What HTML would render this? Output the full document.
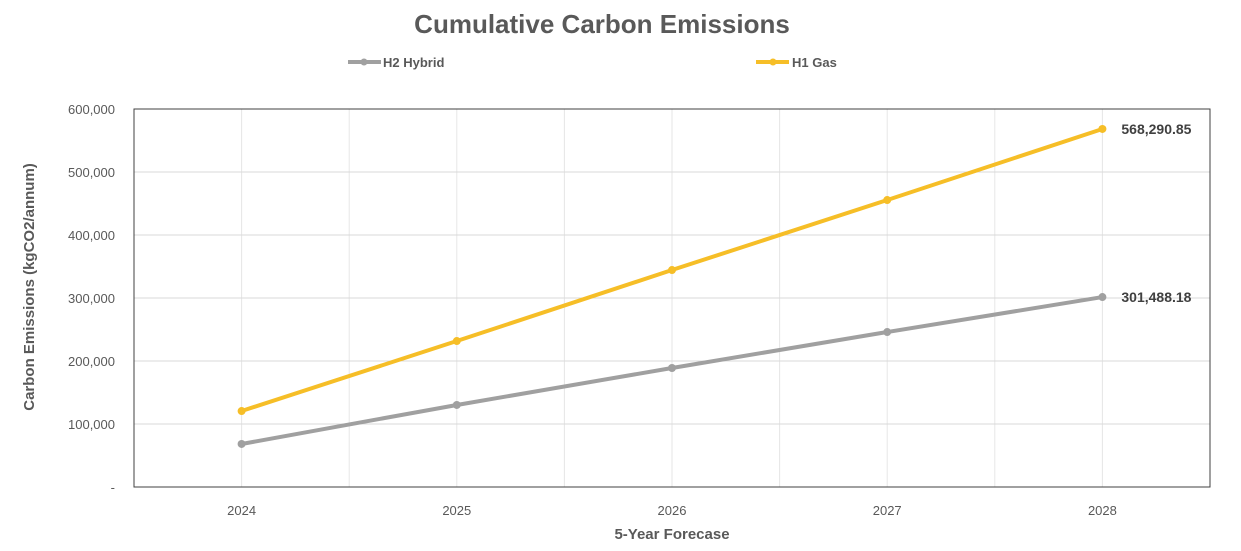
<!DOCTYPE html>
<html><head><meta charset="utf-8"><style>
body{margin:0;background:#fff;font-family:"Liberation Sans",sans-serif;}
svg text{font-family:"Liberation Sans",sans-serif;}
</style></head><body>
<svg id="c" width="1241" height="546" xmlns="http://www.w3.org/2000/svg">
<text x="602" y="33" text-anchor="middle" font-size="26" font-weight="bold" fill="#595959">Cumulative Carbon Emissions</text>
<g><line x1="348" y1="62" x2="381" y2="62" stroke="#a0a0a0" stroke-width="4"/><circle cx="364" cy="62" r="3.5" fill="#a0a0a0"/><text x="383" y="67" font-size="13" font-weight="bold" fill="#595959">H2 Hybrid</text></g>
<g><line x1="756" y1="62" x2="789" y2="62" stroke="#f6be27" stroke-width="4"/><circle cx="773" cy="62" r="3.5" fill="#f6be27"/><text x="792" y="67" font-size="13" font-weight="bold" fill="#595959">H1 Gas</text></g>
<g id="grid"></g><g id="axes"></g><g id="series"></g>
<text transform="translate(34,287) rotate(-90)" text-anchor="middle" font-size="15" font-weight="bold" fill="#595959">Carbon Emissions (kgCO2/annum)</text>
<text x="672" y="539" text-anchor="middle" font-size="15" font-weight="bold" fill="#595959">5-Year Forecase</text>
</svg>
<script>
const categories=["2024","2025","2026","2027","2028"];
const h2Values=[68300,130200,188900,246000,301488.18];
const h1Values=[120600,231700,344400,455500,568290.85];
const yTicks=[0,100000,200000,300000,400000,500000,600000];
const yTickLabels=["-","100,000","200,000","300,000","400,000","500,000","600,000"];
const endLabels=["301,488.18","568,290.85"];
const L=134,R=1210,T=109,B=487,NS="http://www.w3.org/2000/svg";
const bw=(R-L)/categories.length;
const x=i=>L+bw*(i+0.5);
const y=v=>B-(v/600000)*(B-T);
function mk(t,a,p){const e=document.createElementNS(NS,t);for(const k in a)e.setAttribute(k,a[k]);p.appendChild(e);return e;}
const grid=document.getElementById('grid'),axes=document.getElementById('axes'),ser=document.getElementById('series');
for(let k=1;k<categories.length*2;k++){const gx=L+bw/2*k;const l=mk('line',{x1:gx,x2:gx,y1:T,y2:B,stroke:'#e6e6e6'},grid);

}
yTicks.forEach((v,i)=>{if(v>0){const l=mk('line',{x1:L,x2:R,y1:y(v),y2:y(v),stroke:'#d9d9d9'},grid);

}
const t=mk('text',{x:115,y:y(v)+5,'text-anchor':'end','font-size':13,fill:'#595959'},axes);t.textContent=yTickLabels[i];

});
const fr=mk('rect',{x:L,y:T,width:R-L,height:B-T,fill:'none',stroke:'#404040','stroke-width':1},axes);


categories.forEach((c,i)=>{const t=mk('text',{x:x(i),y:515,'text-anchor':'middle','font-size':13,fill:'#595959'},axes);t.textContent=c;

});
[[h2Values,'#a0a0a0','h2-hybrid-line',endLabels[0]],[h1Values,'#f6be27','h1-gas-line',endLabels[1]]].forEach(([vals,col,nm,lab])=>{
const p=mk('polyline',{points:vals.map((v,i)=>x(i)+','+y(v)).join(' '),fill:'none',stroke:col,'stroke-width':4},ser);


vals.forEach((v,i)=>{const c=mk('circle',{cx:x(i),cy:y(v),r:4,fill:col},ser);

});
const n=vals.length-1;const t=mk('text',{x:x(n)+19,y:y(vals[n])+5,'font-size':14,'font-weight':'bold',fill:'#404040'},ser);t.textContent=lab;

});
</script>
</body></html>
